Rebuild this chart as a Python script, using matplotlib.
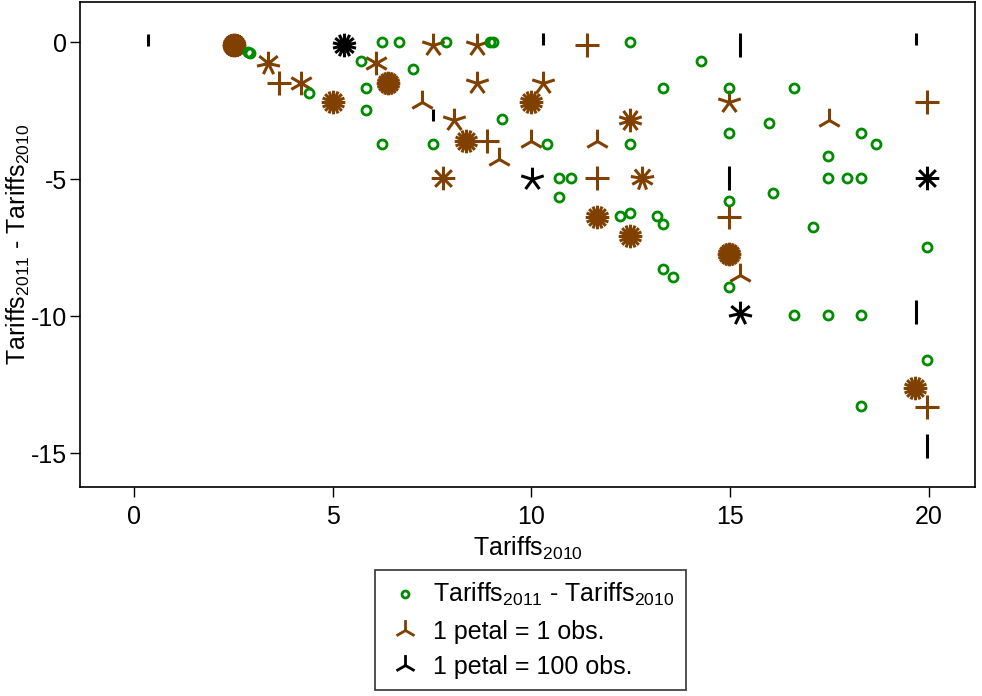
import numpy as np
import matplotlib
matplotlib.use('Agg')
import matplotlib.pyplot as plt
from matplotlib.path import Path
from matplotlib.lines import Line2D

plt.rcParams['font.family'] = ['Liberation Sans', 'DejaVu Sans']
plt.rcParams['mathtext.fontset'] = 'custom'
plt.rcParams['mathtext.rm'] = 'Liberation Sans'
plt.rcParams['mathtext.it'] = 'Liberation Sans'
plt.rcParams['axes.unicode_minus'] = False

# single observations (Tariffs2010, Tariffs2011 - Tariffs2010)
pts_x = [2.87, 2.93, 4.39, 5.71, 5.84, 5.84, 6.25, 6.67, 7.85, 8.96, 9.02,
         7.01, 6.25, 7.51, 9.27, 10.4, 12.48, 13.32, 12.48, 10.69, 10.99,
         10.69, 12.24, 12.49, 13.15, 13.32, 13.32, 13.55, 14.26, 14.97,
         16.61, 14.97, 15.97, 18.29, 18.68, 17.47, 17.47, 17.95, 18.29,
         16.08, 14.97, 17.09, 19.94, 14.97, 16.61, 17.47, 18.29, 19.94, 18.29]
pts_y = [-0.35, -0.41, -1.87, -0.69, -1.67, -2.48, 0.0, 0.0, 0.0, 0.0, 0.0,
         -1.0, -3.73, -3.73, -2.82, -3.73, 0.0, -1.67, -3.73, -4.98, -4.98,
         -5.67, -6.34, -6.23, -6.34, -6.64, -8.3, -8.56, -0.69, -1.67,
         -1.67, -3.31, -2.97, -3.31, -3.73, -4.15, -4.98, -4.98, -4.98,
         -5.52, -5.79, -6.75, -7.47, -8.95, -9.95, -9.95, -9.95, -11.6, -13.28]

# light sunflowers: 1 petal = 1 obs.
light_x = [2.52, 3.36, 3.65, 4.19, 5.01, 6.1, 6.4, 7.51, 8.62, 8.62, 10.28,
           9.99, 7.24, 8.06, 8.34, 8.89, 9.18, 10.0, 11.66, 12.49, 7.78,
           11.66, 12.77, 11.39, 11.66, 12.49, 14.97, 17.48, 19.94, 14.98,
           14.98, 15.25, 19.66, 19.94]
light_y = [-0.1, -0.78, -1.5, -1.5, -2.2, -0.78, -1.5, -0.1, -0.1, -1.48, -1.48,
           -2.18, -2.18, -2.85, -3.6, -3.6, -4.28, -3.6, -3.6, -2.85, -4.98,
           -4.98, -4.98, -0.1, -6.37, -7.08, -2.18, -2.85, -2.18, -6.37,
           -7.74, -8.5, -12.64, -13.33]
light_n = [30, 7, 4, 6, 16, 6, 20, 5, 5, 5, 5,
           16, 3, 5, 16, 4, 3, 3, 3, 10, 8,
           4, 9, 4, 16, 16, 5, 3, 4, 4,
           20, 3, 16, 4]

# dark sunflowers: 1 petal = 100 obs.
dark_x = [0.35, 10.29, 19.67, 7.52, 15.25, 14.97, 19.67, 19.95, 10.01, 5.29, 19.94, 15.25]
dark_y = [-0.15, -0.12, -0.12, -2.9, -0.11, -4.98, -9.84, -14.73, -4.99, -0.11, -4.97, -9.88]
dark_n = [1, 1, 1, 1, 2, 2, 2, 2, 5, 14, 8, 7]


def flower(n):
    # petals as line segments out of the centre, first one pointing up
    verts, codes = [], []
    for k in range(n):
        a = np.pi / 2 + 2 * np.pi * k / n
        verts += [(0, 0), (np.cos(a), np.sin(a))]
        codes += [Path.MOVETO, Path.LINETO]
    return Path(verts, codes)


brown = '#804000'
green = '#008C00'

fig = plt.figure(figsize=(9.82, 6.96), dpi=100)
ax = fig.add_axes([80/982, 1-487/696, 895/982, 485/696])

ax.plot(pts_x, pts_y, 'o', ms=6.5, mfc='none', mec=green, mew=2, ls='none', zorder=3)
for x, y, n in zip(light_x, light_y, light_n):
    ax.plot(x, y, marker=flower(n), ms=17, mfc='none', mec=brown, mew=2.2, ls='none', zorder=2)
for x, y, n in zip(dark_x, dark_y, dark_n):
    ax.plot(x, y, marker=flower(n), ms=17, mfc='none', mec='black', mew=2.2, ls='none', zorder=2)

ax.set_xlim(-1.36, 21.16)
ax.set_ylim(-16.24, 1.46)
ax.set_xticks([0, 5, 10, 15, 20])
ax.set_yticks([0, -5, -10, -15])
ax.tick_params(axis='both', direction='out', length=7, width=1, labelsize=18)
ax.tick_params(axis='x', pad=6)
ax.tick_params(axis='y', pad=2)
for s in ax.spines.values():
    s.set_linewidth(1.2)

ax.set_xlabel('Tariffs$_{\\mathrm{2010}}$', fontsize=18, labelpad=4)
ax.set_ylabel('Tariffs$_{\\mathrm{2011}}$ - Tariffs$_{\\mathrm{2010}}$', fontsize=18)
ax.yaxis.set_label_coords(-48/895, 0.5)

handles = [
    Line2D([], [], marker='o', ms=5, mfc='none', mec=green, mew=2, ls='none'),
    Line2D([], [], marker=flower(3), ms=15, mfc='none', mec=brown, mew=2, ls='none'),
    Line2D([], [], marker=flower(3), ms=15, mfc='none', mec='black', mew=2, ls='none'),
]
labels = ['Tariffs$_{\\mathrm{2011}}$ - Tariffs$_{\\mathrm{2010}}$',
          '1 petal = 1 obs.', '1 petal = 100 obs.']
leg = fig.legend(handles, labels, loc='upper center', bbox_to_anchor=(0.54, 1-570/696),
                 fontsize=18, frameon=True, fancybox=False, edgecolor='black',
                 labelspacing=0.45, handletextpad=0.4, handlelength=1.5,
                 borderpad=0.45, borderaxespad=0)
leg.get_frame().set_linewidth(1.2)

fig.savefig('out.png', dpi=100)
